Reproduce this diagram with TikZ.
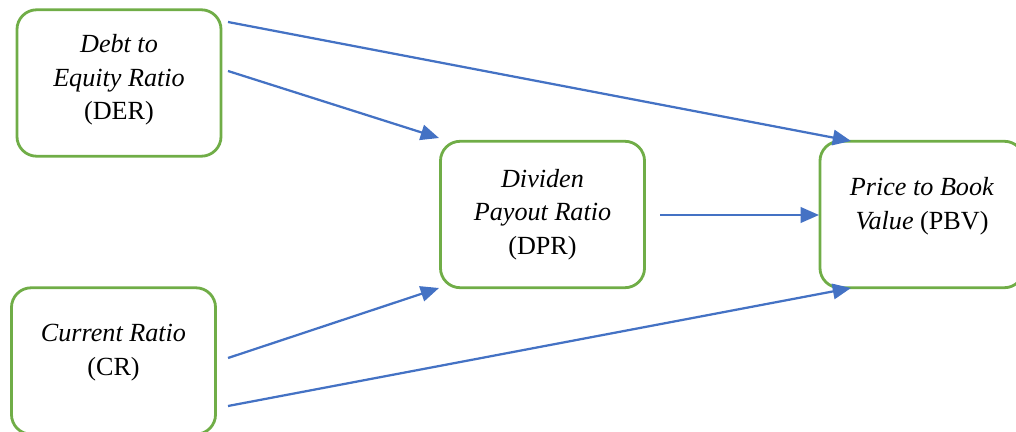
\documentclass[tikz,border=0pt]{standalone}
\usepackage{fontspec}
\setmainfont{Liberation Serif}
\usetikzlibrary{arrows.meta}
\definecolor{boxgreen}{RGB}{112,173,71}
\definecolor{arrowblue}{RGB}{68,114,196}

\begin{document}
\begin{tikzpicture}[x=0.025cm,y=-0.025cm,
    var/.style={draw=boxgreen, line width=2pt, rounded corners=14pt,
        align=center, font=\fontsize{18.6}{24}\selectfont,
        minimum width=5.1cm, minimum height=3.66cm},
    lift/.style={text depth=#1},
    link/.style={arrowblue, line width=1.6pt, -{Triangle[length=13pt,width=11pt]}}]

        \useasboundingbox (0,0) rectangle (1016,432);
        \clip (0,0) rectangle (1016,432);

        \node[var, lift=8.5pt] (der) at (119, 83) {\textit{Debt to}\\\textit{Equity Ratio}\\(DER)};
        \node[var, lift=15.5pt] (cr) at (113.5, 361) {\textit{Current Ratio}\\(CR)};
        \node[var] (dpr) at (542.5, 214.5) {\textit{Dividen}\\\textit{Payout Ratio}\\(DPR)};
        \node[var, lift=15.5pt] (pbv) at (922, 214.5) {\textit{Price to Book}\\\textit{Value} (PBV)};

        % arrow ends, kept apart from the boxes
        \coordinate (der1) at (228, 22);
        \coordinate (der2) at (228, 71);
        \coordinate (cr1) at (228, 358);
        \coordinate (cr2) at (228, 406);
        \coordinate (dpr1) at (439, 138);
        \coordinate (dpr2) at (439, 288);
        \coordinate (dpr3) at (660, 215);
        \coordinate (pbv1) at (851, 141);
        \coordinate (pbv2) at (819, 215);
        \coordinate (pbv3) at (851, 288);

        \path[link]
        (der1) edge (pbv1)
        (der2) edge (dpr1)
        (dpr3) edge (pbv2)
        (cr1) edge (dpr2)
        (cr2) edge (pbv3)
        ;

    \end{tikzpicture}
\end{document}
